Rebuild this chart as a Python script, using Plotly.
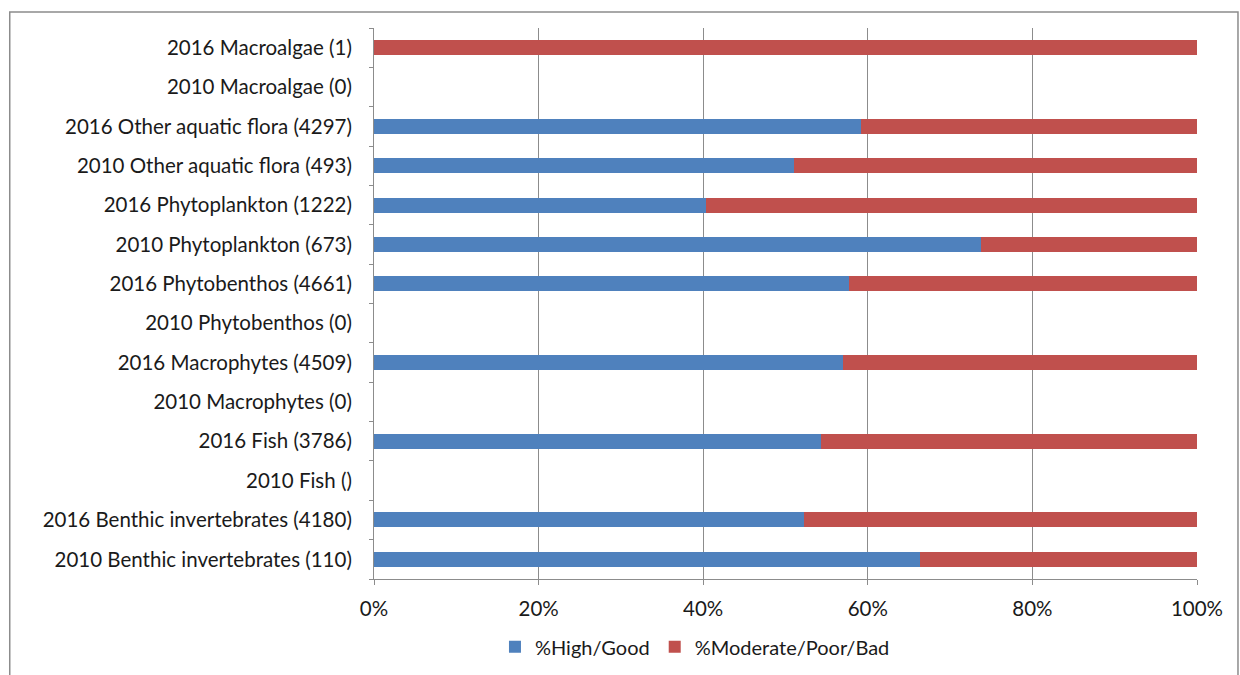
import plotly.graph_objects as go

# Categories, listed bottom to top
categories = [
    "2010 Benthic invertebrates (110)",
    "2016 Benthic invertebrates (4180)",
    "2010 Fish ()",
    "2016 Fish (3786)",
    "2010 Macrophytes (0)",
    "2016 Macrophytes (4509)",
    "2010 Phytobenthos (0)",
    "2016 Phytobenthos (4661)",
    "2010 Phytoplankton (673)",
    "2016 Phytoplankton (1222)",
    "2010 Other aquatic flora (493)",
    "2016 Other aquatic flora (4297)",
    "2010 Macroalgae (0)",
    "2016 Macroalgae (1)",
]

# Share of water bodies in each status class (fractions)
high_good = [0.663, 0.523, None, 0.543, None, 0.570, None, 0.577,
             0.738, 0.403, 0.510, 0.592, None, 0.0]
moderate_poor_bad = [0.337, 0.477, None, 0.457, None, 0.430, None, 0.423,
                     0.262, 0.597, 0.490, 0.408, None, 1.0]

tick_vals = [0, 0.2, 0.4, 0.6, 0.8, 1.0]

FONT = "Lato"
BLUE = "#4F81BD"
RED = "#C0504D"
GRID = "#8C8C8C"

fig = go.Figure()
fig.add_trace(go.Bar(
    y=categories, x=high_good, orientation="h", name="%High/Good",
    marker=dict(color=BLUE, line=dict(width=0)),
))
fig.add_trace(go.Bar(
    y=categories, x=moderate_poor_bad, orientation="h", name="%Moderate/Poor/Bad",
    marker=dict(color=RED, line=dict(width=0)),
))

# Outer chart frame
fig.add_shape(type="rect", xref="paper", yref="paper",
              x0=-0.4426, x1=1.0498, y0=-0.18, y1=1.029,
              line=dict(color="#8C8C8C", width=1.5), layer="below")

fig.update_layout(
    width=1240, height=675,
    margin=dict(l=373.5, r=43, t=28, b=96, autoexpand=False),
    barmode="stack",
    bargap=0.62,
    plot_bgcolor="white",
    paper_bgcolor="white",
    font=dict(family=FONT, size=20.5, color="#1a1a1a"),
    showlegend=True,
    legend=dict(orientation="h", x=0.39, y=-0.123, xanchor="center", yanchor="middle",
                font=dict(family=FONT, size=20), itemwidth=30, traceorder="normal"),
    xaxis=dict(range=[0, 1], tickvals=tick_vals, tickformat=".0%",
               showgrid=True, gridcolor=GRID, gridwidth=1,
               showline=True, linecolor=GRID, linewidth=1,
               ticks="outside", ticklen=5, tickcolor=GRID,
               zeroline=False, fixedrange=True, ticklabelstandoff=6),
    yaxis=dict(type="category", categoryorder="array", categoryarray=categories,
               showgrid=False, showline=True, linecolor=GRID, linewidth=1,
               ticks="outside", ticklen=4, tickcolor=GRID, tickson="boundaries",
               ticklabelstandoff=17, range=[-0.5, len(categories) - 0.5]),
)

fig.write_html("out.html")
